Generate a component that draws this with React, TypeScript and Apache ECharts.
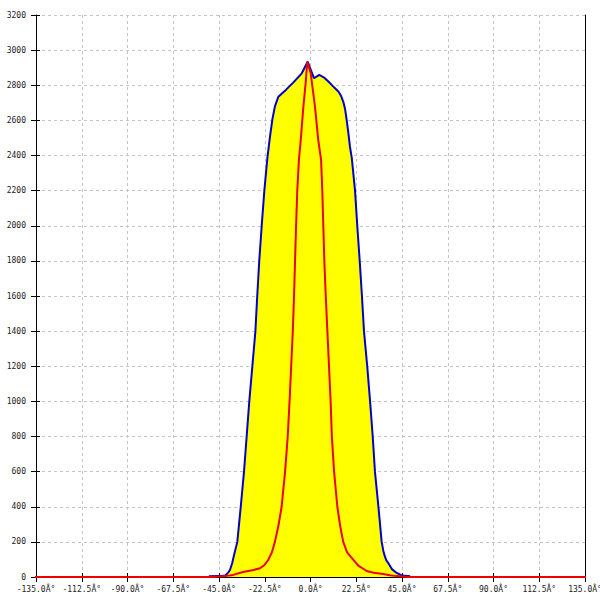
import React, { useEffect, useRef } from "react";
import * as echarts from "echarts";

const xTicks = { min: -135, max: 135, interval: 22.5 };
const yTicks = { min: 0, max: 3200, interval: 200 };

// [angle in degrees, value]
const blueSeries: [number, number][] = [
  [-50, 4], [-45, 5], [-42, 8], [-40.5, 25], [-39.6, 40], [-38.5, 80],
  [-37.5, 130], [-36, 200], [-34.3, 400], [-32.7, 600], [-31.4, 800],
  [-30.1, 1000], [-28.6, 1200], [-27.1, 1400], [-26.2, 1600], [-25.2, 1800],
  [-24, 2000], [-22.7, 2200], [-21.2, 2386], [-20, 2500], [-18.8, 2602],
  [-17.5, 2680], [-15.8, 2735], [-12, 2775], [-8.5, 2815], [-4.3, 2868],
  [-1.4, 2934], [1.7, 2840], [4.3, 2859], [6.5, 2845], [8.8, 2821],
  [11, 2795], [13.7, 2764], [15, 2740], [16.1, 2707], [17, 2665],
  [17.8, 2602], [18.7, 2520], [19.4, 2450], [20.3, 2386], [21.9, 2200],
  [23.0, 2000], [24.2, 1800], [25.3, 1600], [26.3, 1400],
  [27.9, 1200], [29.3, 1000], [30.6, 800], [31.7, 600], [33.4, 400],
  [35.0, 200], [35.8, 150], [36.5, 120], [37.3, 95], [38.3, 78], [40, 45],
  [42.4, 23], [45, 8], [49, 4],
];

const redSeries: [number, number][] = [
  [-180, 0], [-48, 0], [-42, 5], [-38, 12], [-33.2, 28], [-28, 40],
  [-24.8, 50], [-22.5, 70], [-20.8, 97], [-19, 140], [-17.5, 200],
  [-15.8, 290], [-14.2, 400], [-12.5, 600], [-11.2, 800], [-10.3, 1000],
  [-9.5, 1200], [-8.7, 1400], [-8.1, 1600], [-7.6, 1800],
  [-7.1, 2000], [-6.5, 2200], [-5.7, 2375], [-4.8, 2489], [-3.5, 2678],
  [-2.4, 2811], [-1.6, 2933], [0.1, 2868], [2.2, 2678], [3.8, 2489],
  [5.2, 2375], [5.8, 2200], [6.3, 2000], [6.8, 1800], [7.5, 1600],
  [8.3, 1400], [9.1, 1200], [9.9, 1000], [10.5, 800],
  [11.6, 600], [13.2, 400], [14.6, 290], [16.1, 200], [18, 140],
  [21.1, 97], [23.5, 65], [27.6, 34], [31, 24], [35.8, 17], [39, 10],
  [42.4, 5], [48, 0], [180, 0],
];

const labelFont = "DejaVu Sans Mono";

export default function App() {
  const ref = useRef<HTMLDivElement>(null);
  useEffect(() => {
    if (!ref.current) return;
    const chart = echarts.init(ref.current, null, { renderer: "svg" });
    const gridLine = { show: true, lineStyle: { color: "#c4c4c4", type: [3, 3] as any, width: 1 } };
    chart.setOption({
      animation: false,
      backgroundColor: "#ffffff",
      grid: {
        left: 36,
        right: 15,
        top: 15,
        bottom: 23,
        containLabel: false,
        outerBoundsMode: "none",
      },
      xAxis: [
        {
          type: "value",
          ...xTicks,
          axisLine: { show: true, onZero: false, lineStyle: { color: "#000", width: 1 } },
          axisTick: { show: true, inside: false, length: 5, lineStyle: { color: "#000" } },
          axisLabel: {
            show: true,
            margin: 8,
            fontFamily: labelFont,
            fontSize: 8,
            color: "#222",
            hideOverlap: false,
            showMinLabel: true,
            showMaxLabel: true,
            formatter: (v: number) => v.toFixed(1) + "Â°",
          },
          splitLine: gridLine,
        },
        {
          type: "value",
          ...xTicks,
          position: "bottom",
          axisLine: { show: false, onZero: false },
          axisTick: { show: true, inside: true, length: 4, lineStyle: { color: "#000" } },
          axisLabel: { show: false },
          splitLine: { show: false },
        },
      ],
      yAxis: [
        {
          type: "value",
          ...yTicks,
          position: "left",
          axisLine: { show: true, onZero: false, lineStyle: { color: "#000", width: 1 } },
          axisTick: { show: true, inside: false, length: 5, lineStyle: { color: "#000" } },
          axisLabel: {
            show: true,
            margin: 10,
            fontFamily: labelFont,
            fontSize: 8,
            color: "#222",
            hideOverlap: false,
            formatter: (v: number) => String(v),
          },
          splitLine: gridLine,
        },
        {
          type: "value",
          ...yTicks,
          position: "left",
          offset: 0,
          axisLine: { show: false, onZero: false },
          axisTick: { show: true, inside: true, length: 4, lineStyle: { color: "#000" } },
          axisLabel: { show: false },
          splitLine: { show: false },
        },
        {
          type: "value",
          ...yTicks,
          position: "right",
          offset: 0,
          axisLine: { show: true, onZero: false, lineStyle: { color: "#000", width: 1 } },
          axisTick: { show: false },
          axisLabel: { show: false },
          splitLine: { show: false },
        },
      ],
      series: [
        {
          type: "line",
          data: blueSeries,
          xAxisIndex: 0,
          yAxisIndex: 0,
          showSymbol: false,
          smooth: false,
          lineStyle: { color: "#0000cc", width: 2 },
          areaStyle: { color: "#ffff00", opacity: 1 },
          z: 2,
        },
        {
          type: "line",
          data: redSeries,
          xAxisIndex: 0,
          yAxisIndex: 0,
          showSymbol: false,
          smooth: false,
          clip: false,
          lineStyle: { color: "#ee0000", width: 2 },
          z: 3,
        },
      ],
    });
    return () => chart.dispose();
  }, []);
  return (
    <div
      ref={ref}
      style={{ position: "fixed", left: 0, top: 0, width: 600, height: 600, background: "#fff" }}
    />
  );
}
